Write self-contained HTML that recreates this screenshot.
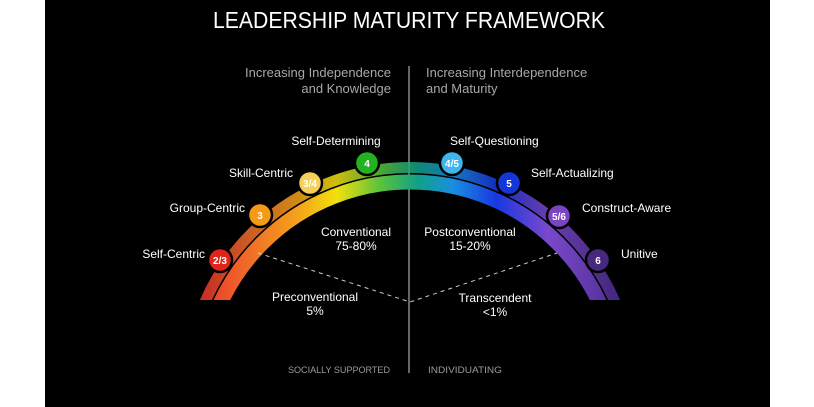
<!DOCTYPE html>
<html><head><meta charset="utf-8"><style>
html,body{margin:0;padding:0;background:#fff;width:814px;height:407px;overflow:hidden;}
svg{display:block;}
text{font-family:"Liberation Sans",sans-serif;}
</style></head><body>
<svg width="814" height="407" viewBox="0 0 814 407" xmlns="http://www.w3.org/2000/svg">
<defs>
<linearGradient id="g" x1="195" y1="0" x2="625" y2="0" gradientUnits="userSpaceOnUse">
<stop offset="0" stop-color="#e8302a"/>
<stop offset="0.12" stop-color="#f06a2a"/>
<stop offset="0.24" stop-color="#f5a21a"/>
<stop offset="0.33" stop-color="#f2e00e"/>
<stop offset="0.43" stop-color="#5cc23a"/>
<stop offset="0.52" stop-color="#10a08a"/>
<stop offset="0.6" stop-color="#1a8ee0"/>
<stop offset="0.7" stop-color="#1838e0"/>
<stop offset="0.82" stop-color="#7a48cc"/>
<stop offset="1" stop-color="#4b2c8e"/>
</linearGradient>
<clipPath id="c"><rect x="0" y="0" width="814" height="300"/></clipPath>
</defs>
<rect x="45" y="0" width="725" height="407" fill="#000"/>
<text x="409" y="28" fill="#fff" font-size="23" text-anchor="middle" textLength="392" lengthAdjust="spacingAndGlyphs">LEADERSHIP MATURITY FRAMEWORK</text>
<line x1="409" y1="66" x2="409" y2="373" stroke="#888" stroke-width="1.5"/>
<g fill="#a8a8a8" font-size="13">
<text x="391" y="77" text-anchor="end">Increasing Independence</text>
<text x="391" y="93" text-anchor="end">and Knowledge</text>
<text x="426" y="77">Increasing Interdependence</text>
<text x="426" y="93">and Maturity</text>
</g>
<g clip-path="url(#c)" fill="none" stroke="url(#g)">
<circle cx="410" cy="391" r="223.5" stroke-width="11" opacity="0.85"/>
<circle cx="410" cy="391" r="209" stroke-width="15"/>
</g>
<polyline points="258,253 410,302 557,253" fill="none" stroke="#ccc" stroke-width="1" stroke-dasharray="4,4"/>
<g stroke="#000" stroke-width="2.5">
<circle cx="220" cy="260" r="12" fill="#e0241a"/>
<circle cx="260" cy="215" r="12" fill="#f39a16"/>
<circle cx="310" cy="183" r="12" fill="#f4cf5a"/>
<circle cx="367" cy="163" r="12" fill="#22b322"/>
<circle cx="452" cy="163" r="12" fill="#40b4ec"/>
<circle cx="509" cy="183" r="12" fill="#1436d8"/>
<circle cx="559" cy="216" r="12" fill="#7b44c4"/>
<circle cx="598" cy="260" r="12" fill="#46287c"/>
</g>
<g fill="#fff" font-size="10" font-weight="bold" text-anchor="middle">
<text x="220" y="264">2/3</text>
<text x="260" y="219">3</text>
<text x="310" y="187">3/4</text>
<text x="367" y="167">4</text>
<text x="452" y="167">4/5</text>
<text x="509" y="187">5</text>
<text x="559" y="220">5/6</text>
<text x="598" y="264">6</text>
</g>
<g fill="#fff" font-size="12">
<text x="205" y="258" text-anchor="end">Self-Centric</text>
<text x="245" y="212" text-anchor="end">Group-Centric</text>
<text x="293" y="177" text-anchor="end">Skill-Centric</text>
<text x="336" y="145" text-anchor="middle">Self-Determining</text>
<text x="450" y="145">Self-Questioning</text>
<text x="531" y="177">Self-Actualizing</text>
<text x="582" y="212">Construct-Aware</text>
<text x="621" y="258">Unitive</text>
<g text-anchor="middle">
<text x="356" y="236">Conventional</text>
<text x="356" y="250">75-80%</text>
<text x="470" y="236">Postconventional</text>
<text x="470" y="250">15-20%</text>
<text x="315" y="301">Preconventional</text>
<text x="315" y="315">5%</text>
<text x="495" y="302">Transcendent</text>
<text x="495" y="316">&lt;1%</text>
</g>
</g>
<g fill="#9a9a9a" font-size="9.5">
<text x="390" y="373" text-anchor="end" textLength="102" lengthAdjust="spacingAndGlyphs">SOCIALLY SUPPORTED</text>
<text x="428" y="373" textLength="74" lengthAdjust="spacingAndGlyphs">INDIVIDUATING</text>
</g>
</svg>
</body></html>
